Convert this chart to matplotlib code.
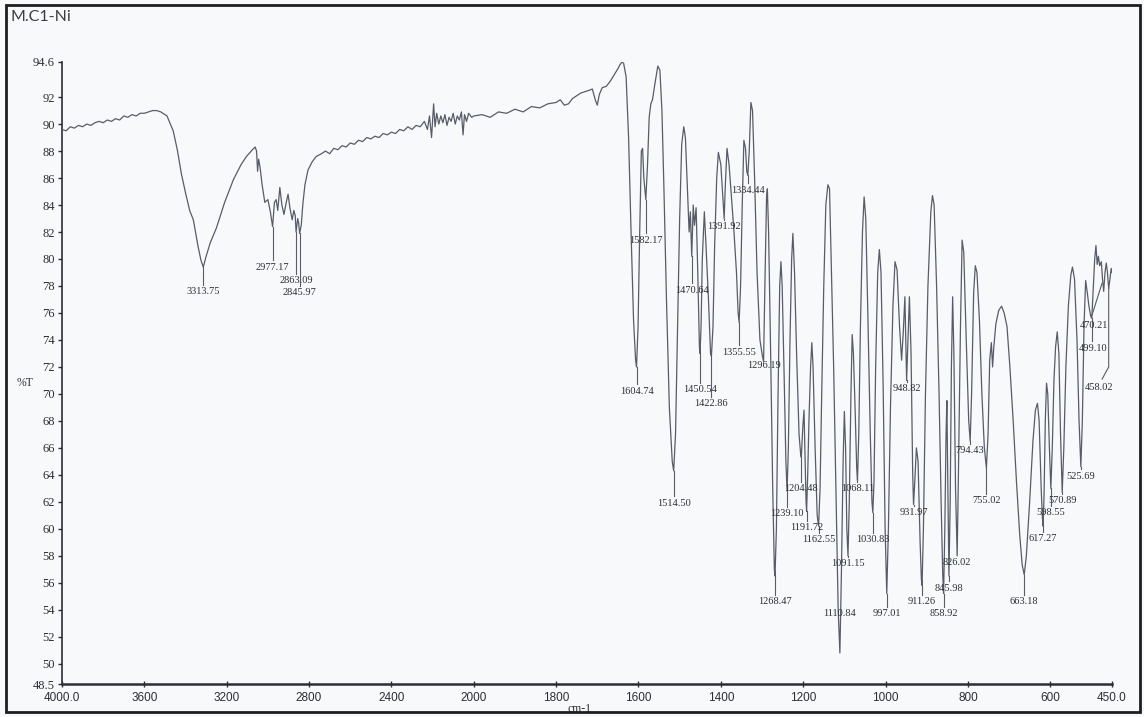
import matplotlib
matplotlib.use("Agg")
import matplotlib.pyplot as plt
import numpy as np
from matplotlib.patches import Rectangle

# spectrum: wavenumber (cm-1) and %T
wavenumber = [
    4000, 3980, 3960, 3940, 3920, 3900, 3880, 3860, 3840, 3820, 3800, 3780,
    3760, 3740, 3720, 3700, 3680, 3660, 3640, 3620, 3600, 3580, 3560, 3540,
    3520, 3490,
    3460, 3440, 3420, 3400, 3380, 3362, 3340, 3325, 3313.75, 3300, 3280, 3250,
    3210, 3167, 3130, 3104, 3075, 3062, 3055, 3050, 3045, 3038, 3028, 3015,
    3000, 2988, 2977.17, 2968, 2960, 2952, 2942, 2932, 2922, 2912, 2902, 2893,
    2882, 2874, 2867, 2863.09, 2855, 2850, 2845.97, 2838, 2830, 2820, 2805,
    2785, 2765, 2740, 2720, 2700, 2680, 2660, 2640, 2620, 2600, 2580, 2560,
    2540, 2520, 2500, 2480, 2460, 2440, 2420, 2400, 2380, 2360, 2340, 2320,
    2300, 2280, 2260, 2240, 2225, 2215, 2205, 2195, 2188, 2180, 2170, 2160,
    2150, 2140, 2130, 2120, 2110, 2100, 2090, 2080, 2070, 2060, 2052, 2045,
    2035, 2025, 2010, 2000, 1980, 1960, 1940, 1920, 1900, 1880, 1860, 1840,
    1820, 1800, 1790, 1780, 1770, 1760, 1750, 1740, 1730, 1720, 1712, 1705,
    1700, 1695, 1688, 1678, 1668, 1658, 1650, 1645, 1640, 1636, 1630, 1624,
    1618, 1612, 1607, 1604.74, 1601, 1597, 1593, 1590, 1587, 1582.17, 1578,
    1574, 1570, 1566, 1560, 1553, 1548, 1543, 1538, 1532, 1525, 1518, 1514.50,
    1510, 1505, 1500, 1495, 1490, 1486, 1481, 1477, 1474, 1470.64, 1467, 1464,
    1460, 1456, 1452, 1450.54, 1448, 1445, 1440, 1436, 1430, 1425, 1422.86,
    1419, 1415, 1410, 1406, 1400, 1395, 1391.92, 1389, 1385, 1380, 1374, 1368,
    1362, 1358, 1355.55, 1352, 1348, 1344, 1340, 1337, 1334.44, 1331, 1327,
    1323, 1318, 1312, 1305, 1299, 1296.19, 1293, 1289, 1287, 1284, 1279, 1274,
    1270, 1268.47, 1265, 1261, 1257, 1254, 1251, 1246, 1242, 1239.10, 1236,
    1232, 1228, 1225, 1221, 1216, 1210, 1206, 1204.48, 1201, 1198, 1196, 1193,
    1191.72, 1189, 1186, 1182, 1179, 1176, 1171, 1166, 1162.55, 1159, 1155,
    1150, 1145, 1140, 1136, 1132, 1126, 1120, 1115, 1110.84, 1107, 1103, 1100,
    1097, 1094, 1091.15, 1088, 1084, 1081, 1078, 1074, 1070, 1068.11, 1065,
    1061, 1056, 1052, 1048, 1043, 1037, 1033, 1030.83, 1028, 1024, 1019, 1015,
    1011, 1006, 1001, 997.01, 993, 988, 982, 977, 972, 966, 961, 957, 953, 950,
    948.82, 946, 942, 938, 934, 931.97, 929, 925, 921, 916, 913, 911.26, 908,
    903, 897, 890, 886, 882, 876, 870, 865, 861, 858.92, 856, 853, 851, 849,
    845.98, 843, 840, 837, 834, 830, 826.02, 823, 818, 814, 810, 804, 798,
    794.43, 791, 786, 782, 778, 772, 766, 760, 755.02, 751, 747, 743, 740, 737,
    732, 725, 718, 712, 705, 698, 690, 682, 674, 668, 663.18, 658, 650, 642,
    636, 631, 627, 622, 619, 617.27, 615, 612, 609, 606, 602, 598.55, 595, 591,
    587, 583, 579, 575, 570.89, 567, 562, 556, 550, 546, 541, 535, 530, 525.69,
    522, 518, 514, 510, 506, 502, 499.10, 496, 492, 489, 486, 483, 480, 476,
    473, 470.21, 467, 464, 461, 458.02, 455, 452, 450,
]
transmittance = [
    89.6, 89.5, 89.8, 89.7, 89.9, 89.8, 90.0, 89.9, 90.1, 90.2, 90.1, 90.3,
    90.2, 90.4, 90.3, 90.6, 90.5, 90.7, 90.6, 90.8, 90.8, 90.9, 91.0, 91.0,
    90.9, 90.6,
    89.5, 88.1, 86.3, 84.9, 83.6, 82.9, 81.0, 79.9, 79.4, 80.2, 81.2, 82.3,
    84.2, 85.9, 87.0, 87.6, 88.1, 88.3, 88.0, 86.5, 87.4, 86.8, 85.5, 84.2,
    84.4, 83.5, 82.4, 84.2, 84.4, 83.6, 85.3, 84.0, 83.3, 84.1, 84.8, 83.8,
    82.9, 83.6, 83.2, 82.0, 83.0, 82.6, 81.9, 82.5, 84.1, 85.5, 86.6,
    87.2, 87.6, 87.8, 88.0, 87.8, 88.2, 88.1, 88.4, 88.3, 88.6, 88.5, 88.8,
    88.7, 89.0, 88.9, 89.1, 89.0, 89.3, 89.2, 89.4, 89.3, 89.6, 89.5, 89.8,
    89.6, 89.9, 89.8, 90.2, 89.6, 90.6, 89.0, 91.5, 89.8, 90.8, 90.0, 90.6,
    90.1, 90.7, 89.9, 90.5, 90.2, 90.8, 90.0, 90.6, 90.3, 90.9, 89.2, 90.7,
    90.2, 90.8, 90.5, 90.6, 90.7, 90.5, 90.9, 90.8, 91.1, 90.9, 91.3, 91.2,
    91.5, 91.6, 91.8, 91.4, 91.5, 91.9, 92.1, 92.3, 92.4, 92.5, 92.6, 91.8,
    91.4, 92.2, 92.7, 92.8, 93.2, 93.7, 94.1, 94.4, 94.6, 94.5, 93.5, 89.0,
    82.0, 75.5, 72.5, 72.0, 75.0, 82.0, 88.0, 88.2, 86.0, 84.4, 87.0,
    90.5, 91.5, 91.8, 93.0, 94.3, 94.0, 91.0, 85.0, 77.0, 69.0, 65.0, 64.3,
    67.0, 75.0, 83.0, 88.5, 89.8, 89.0, 85.0, 82.0, 83.5, 80.2, 84.0, 82.5,
    83.8, 79.0, 73.5, 73.0, 75.0, 80.0, 83.5, 81.0, 77.0, 73.0, 72.8,
    75.0, 81.0, 86.0, 87.9, 87.0, 84.5, 83.0, 85.5, 88.2, 87.0, 84.5, 82.0,
    79.0, 76.0, 75.3, 78.0, 84.0, 88.8, 88.2, 86.5, 86.2, 88.0, 91.6,
    91.0, 86.0, 79.0, 74.0, 72.8, 72.4, 78.0, 84.5, 85.2, 82.0, 73.0, 63.0,
    57.0, 56.5, 60.0, 70.0, 78.0, 79.8, 78.0, 71.0, 65.0, 62.8, 66.0,
    74.0, 80.0, 81.9, 79.0, 73.0, 67.0, 65.5, 65.3, 67.5, 68.8, 66.0, 62.0,
    61.3, 64.0, 68.0, 72.0, 73.8, 72.0, 66.0, 61.0, 60.2, 63.0, 70.0,
    78.0, 84.0, 85.5, 85.2, 80.0, 72.0, 62.0, 54.0, 50.8, 57.0, 65.0, 68.7,
    66.0, 60.0, 58.0, 62.0, 70.0, 74.4, 73.0, 69.0, 64.5, 63.6, 67.0,
    75.0, 82.0, 84.6, 83.0, 76.0, 67.0, 62.0, 61.2, 63.5, 72.0, 79.0, 80.7,
    79.0, 71.0, 60.0, 55.2, 60.0, 69.0, 76.5, 79.8, 79.2, 75.0, 72.5, 74.5, 77.2, 73.0,
    71.0, 73.5, 77.2, 73.0, 64.0, 61.8, 63.5, 66.0, 65.0, 59.0, 56.3, 55.8, 60.0,
    70.0, 78.0, 83.5, 84.7, 84.0, 78.0, 70.0, 62.0, 56.5, 55.2, 60.0, 67.0, 69.5, 64.0,
    56.5, 62.0, 72.0, 77.2, 73.0, 63.0, 58.0, 64.0, 75.0, 81.4, 80.5, 74.0, 68.0,
    66.5, 70.0, 77.5, 79.5, 79.0, 75.5, 70.0, 66.0, 64.5, 67.0, 72.5, 73.8, 72.0, 73.5,
    75.2, 76.2, 76.5, 76.0, 75.0, 72.0, 68.0, 63.5, 59.5, 57.3, 56.6, 58.0, 62.0, 66.5,
    68.8, 69.3, 68.0, 63.0, 60.8, 60.2, 62.5, 68.0, 70.8, 70.0, 66.0, 63.0, 66.0, 71.0,
    73.5, 74.6, 73.0, 67.0, 62.7, 66.0, 72.0, 76.5, 78.8, 79.4, 78.5, 74.0, 68.0, 64.6,
    68.0, 75.0, 78.4, 77.5, 76.5, 75.8, 75.6, 77.5, 80.0, 81.0, 79.6, 80.2, 79.5, 79.8,
    78.5, 77.6, 79.0, 79.7, 79.0, 77.8, 78.5, 79.3, 79.0,
]

# peak labels: wavenumber and the %T height of the label text
peak_wn = [
    3313.75, 2977.17, 2863.09, 2845.97, 1604.74, 1582.17, 1514.50, 1470.64,
    1450.54, 1422.86, 1391.92, 1355.55, 1334.44, 1296.19, 1268.47, 1239.10,
    1204.48, 1191.72, 1162.55, 1110.84, 1091.15, 1068.11, 1030.83, 997.01,
    948.82, 931.97, 911.26, 858.92, 845.98, 826.02, 794.43, 755.02, 663.18,
    617.27, 598.55, 570.89, 525.69, 499.10, 470.21, 458.02,
]
label_y = [
    77.6, 79.4, 78.4, 77.5, 70.2, 81.4, 61.9, 77.7,
    70.3, 69.3, 82.4, 73.1, 85.1, 72.1, 54.6, 61.1,
    63.0, 60.1, 59.2, 53.7, 57.4, 63.0, 59.2, 53.7,
    70.4, 61.2, 54.6, 53.7, 55.6, 57.5, 65.8, 62.1, 54.6,
    59.3, 61.2, 62.1, 63.9, 73.4, 75.1, 70.5,
]
# labels that sit off their peak, with where the text is centred
label_x_moved = {499.10: 496, 470.21: 494, 458.02: 481}

x_ticks = [4000, 3600, 3200, 2800, 2400, 2000, 1800, 1600, 1400, 1200, 1000, 800, 600, 450]
x_tick_labels = ["4000.0", "3600", "3200", "2800", "2400", "2000", "1800", "1600",
                 "1400", "1200", "1000", "800", "600", "450.0"]
y_ticks = [48.5, 50, 52, 54, 56, 58, 60, 62, 64, 66, 68, 70, 72, 74, 76, 78, 80,
           82, 84, 86, 88, 90, 92, 94.6]
y_tick_labels = ["48.5"] + [str(v) for v in y_ticks[1:-1]] + ["94.6"]


def forward(w):
    # scale doubles below 2000 cm-1, as on the instrument printout
    w = np.asarray(w, dtype=float)
    return np.where(w >= 2000, w, 2 * w - 2000)


def inverse(p):
    p = np.asarray(p, dtype=float)
    return np.where(p >= 2000, p, (p + 2000) / 2)


INK = "#2b2e35"
CURVE = "#575c68"
SERIF = "Liberation Serif"

fig = plt.figure(figsize=(11.44, 7.17), dpi=100, facecolor="#f7f9fb")
ax = fig.add_axes([62 / 1144, 33 / 717, 1050 / 1144, 622 / 717])
ax.set_facecolor("none")

ax.set_xscale("function", functions=(forward, inverse))
ax.set_xlim(4000, 450)
ax.set_ylim(48.5, 94.6)

ax.plot(wavenumber, transmittance, color=CURVE, linewidth=0.9, zorder=3)

wn_inc = np.array(wavenumber)[::-1]
t_inc = np.array(transmittance)[::-1]
for w, ly in zip(peak_wn, label_y):
    t_peak = float(np.interp(w, wn_inc, t_inc))
    lx = label_x_moved.get(w, w)
    ax.text(lx, ly, f"{w:.2f}", ha="center", va="center", fontsize=7.5,
            family=SERIF, color=INK, zorder=4)
    if w == 458.02:
        ax.plot([w, w, 474], [t_peak, 72.0, 71.1], color=CURVE, linewidth=0.8)
    elif w == 470.21:
        ax.plot([w + 4, 500], [78.2, 75.7], color=CURVE, linewidth=0.8)
    elif t_peak > ly + 0.5:
        ax.plot([w, w], [t_peak, ly + 0.5], color=CURVE, linewidth=0.8)

ax.set_xticks(x_ticks, x_tick_labels)
ax.set_yticks(y_ticks, y_tick_labels)
ax.tick_params(axis="x", direction="inout", length=4, width=1, colors=INK,
               labelsize=8.5, pad=4)
ax.tick_params(axis="y", direction="out", length=3, width=1, colors=INK,
               labelsize=9, pad=2)
for lab in ax.get_yticklabels():
    lab.set_family(SERIF)
for lab in ax.get_xticklabels():
    lab.set_family("Liberation Sans")

for side in ("top", "right"):
    ax.spines[side].set_visible(False)
ax.spines["left"].set_color(INK)
ax.spines["left"].set_linewidth(1.2)
ax.spines["bottom"].set_color(INK)
ax.spines["bottom"].set_linewidth(1.8)

fig.text(25 / 1144, 1 - 383 / 717, "%T", fontsize=8.5, family=SERIF,
         color=INK, ha="center", va="center")
fig.text(580 / 1144, 1 - 709 / 717, "cm-1", fontsize=8.5, family=SERIF,
         color=INK, ha="center", va="center")
fig.text(10 / 1144, 1 - 17 / 717, "M.C1-Ni", fontsize=11.5, family="Lato",
         color="#3a3d44", ha="left", va="center")

fig.add_artist(Rectangle((6 / 1144, 5 / 717), 1134 / 1144, 707 / 717,
                         transform=fig.transFigure, fill=False,
                         linewidth=2, edgecolor="#1e1e1e", zorder=10))

fig.savefig("out.png", dpi=100, facecolor=fig.get_facecolor())
